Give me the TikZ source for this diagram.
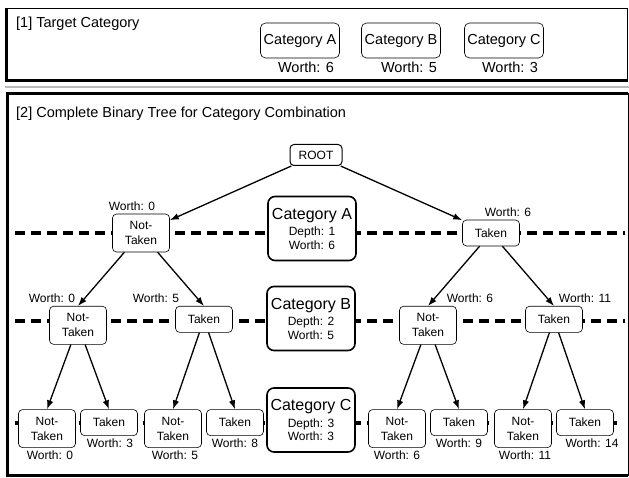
\documentclass[tikz,border=0pt]{standalone}
\usepackage{fontspec}
\setmainfont{Liberation Sans}
\usetikzlibrary{arrows.meta}
\tikzset{
  box/.style = {draw, rounded corners=4pt, fill=white, align=center, line width=0.6pt, inner sep=0pt, minimum width=57pt, font=\fontsize{12pt}{15pt}\selectfont},
  nottaken/.style = {box, minimum height=38pt},
  taken/.style = {box, minimum height=26pt},
  rootbox/.style = {box, minimum width=52pt, minimum height=21pt, line width=1pt},
  catbox/.style = {box, rounded corners=7pt, line width=1.6pt, minimum width=88pt, minimum height=64pt, font=\fontsize{12pt}{13.5pt}\selectfont},
  topbox/.style = {box, rounded corners=5pt, minimum width=79pt, minimum height=35pt, font=\fontsize{14.5pt}{17pt}\selectfont},
  worth/.style = {font=\fontsize{12pt}{14pt}\selectfont, inner sep=1pt},
  topworth/.style = {font=\fontsize{14.5pt}{17pt}\selectfont, inner sep=1pt},
  title/.style = {font=\fontsize{14.5pt}{17pt}\selectfont, inner sep=0pt, anchor=base west},
  depthline/.style = {line width=4pt, dash pattern=on 10pt off 6pt}
}

\begin{document}
\begin{tikzpicture}[x=1pt, y=1pt, label distance=2pt,
    level 1/.style={sibling distance=350pt, level distance=78pt},
    level 2/.style={sibling distance=126pt, level distance=73pt,
      every child node/.style={anchor=north},
      edge from parent path={(\tikzparentnode) -- (\tikzchildnode.north)}},
    level 3/.style={sibling distance=62pt, level distance=84pt},
    edge from parent/.style={draw, line width=1.3pt, -{Latex[length=9pt,width=6.5pt]}}]
  \useasboundingbox (0,0) rectangle (629,477);

  % [1] target category panel
  \draw[line width=1pt] (7,468) rectangle (627,396.5);
  \draw[line width=3pt] (6.5,469) -- (6.5,396.5) -- (628,396.5);
  \draw[gray!55, line width=2pt] (5,390) -- (629,390);
  \node[title] (t1) at (16,449) {[1] Target Category};
  \node[topbox, label={[topworth, xshift=6pt]south:{Worth: 6}}] (tA) at (300,436.5) {Category A};
  \node[topbox, label={[topworth, xshift=8pt]south:{Worth: 5}}] (tB) at (401,436.5) {Category B};
  \node[topbox, label={[topworth, xshift=6pt]south:{Worth: 3}}] (tC) at (504,436.5) {Category C};

  % [2] binary tree panel
  \draw[line width=1pt] (7.5,383) rectangle (628,2);
  \draw[line width=3pt] (628,383) -- (7.5,383) -- (7.5,2) -- (628,2);
  \node[title] (t2) at (16,359) {[2] Complete Binary Tree for Category Combination};

  \draw[depthline] (15,244) -- (625,244);
  \draw[depthline] (15,156) -- (625,156);
  \draw[depthline] (15,54) -- (618,54);

  \node[catbox] (catA) at (312,248.5) {{\fontsize{16pt}{16pt}\selectfont Category A}\\[3pt]Depth: 1\\Worth: 6};
  \node[catbox] (catB) at (311,158.5) {{\fontsize{16pt}{16pt}\selectfont Category B}\\[3pt]Depth: 2\\Worth: 5};
  \node[catbox] (catC) at (311,57) {{\fontsize{16pt}{16pt}\selectfont Category C}\\[3pt]Depth: 3\\Worth: 3};

  \node [rootbox] (root) at (316,322) {ROOT}
    child{ node [nottaken, label={[worth, xshift=-9pt]north:{Worth: 0}}] (a0) {Not-\\Taken}
      child{ node [nottaken, label={[worth, xshift=-26pt]north:{Worth: 0}}] (a0b0) {Not-\\Taken}
        child{ node [nottaken, label={[worth, xshift=3pt]south:{Worth: 0}}] (a0b0c0) {Not-\\Taken}}
        child{ node [taken, label={[worth, xshift=1pt]south:{Worth: 3}}] (a0b0c1) {Taken}}
      }
      child{ node [taken, label={[worth, xshift=-48pt]north:{Worth: 5}}] (a0b1) {Taken}
        child[level distance=90pt]{ node [nottaken, label={[worth, xshift=2pt]south:{Worth: 5}}] (a0b1c0) {Not-\\Taken}}
        child[level distance=90pt]{ node [taken, label={[worth]south:{Worth: 8}}] (a0b1c1) {Taken}}
      }
    }
    child{ node [taken, label={[worth, xshift=17pt]north:{Worth: 6}}] (a1) {Taken}
      child{ node [nottaken, label={[worth, xshift=42pt]north:{Worth: 6}}] (a1b0) {Not-\\Taken}
        child{ node [nottaken, label={[worth]south:{Worth: 6}}] (a1b0c0) {Not-\\Taken}}
        child{ node [taken, label={[worth]south:{Worth: 9}}] (a1b0c1) {Taken}}
      }
      child{ node [taken, label={[worth, xshift=31pt]north:{Worth: 11}}] (a1b1) {Taken}
        child[level distance=90pt]{ node [nottaken, label={[worth, xshift=2pt]south:{Worth: 11}}] (a1b1c0) {Not-\\Taken}}
        child[level distance=90pt]{ node [taken, label={[worth, xshift=7pt]south:{Worth: 14}}] (a1b1c1) {Taken}}
      }
    };
\end{tikzpicture}
\end{document}
